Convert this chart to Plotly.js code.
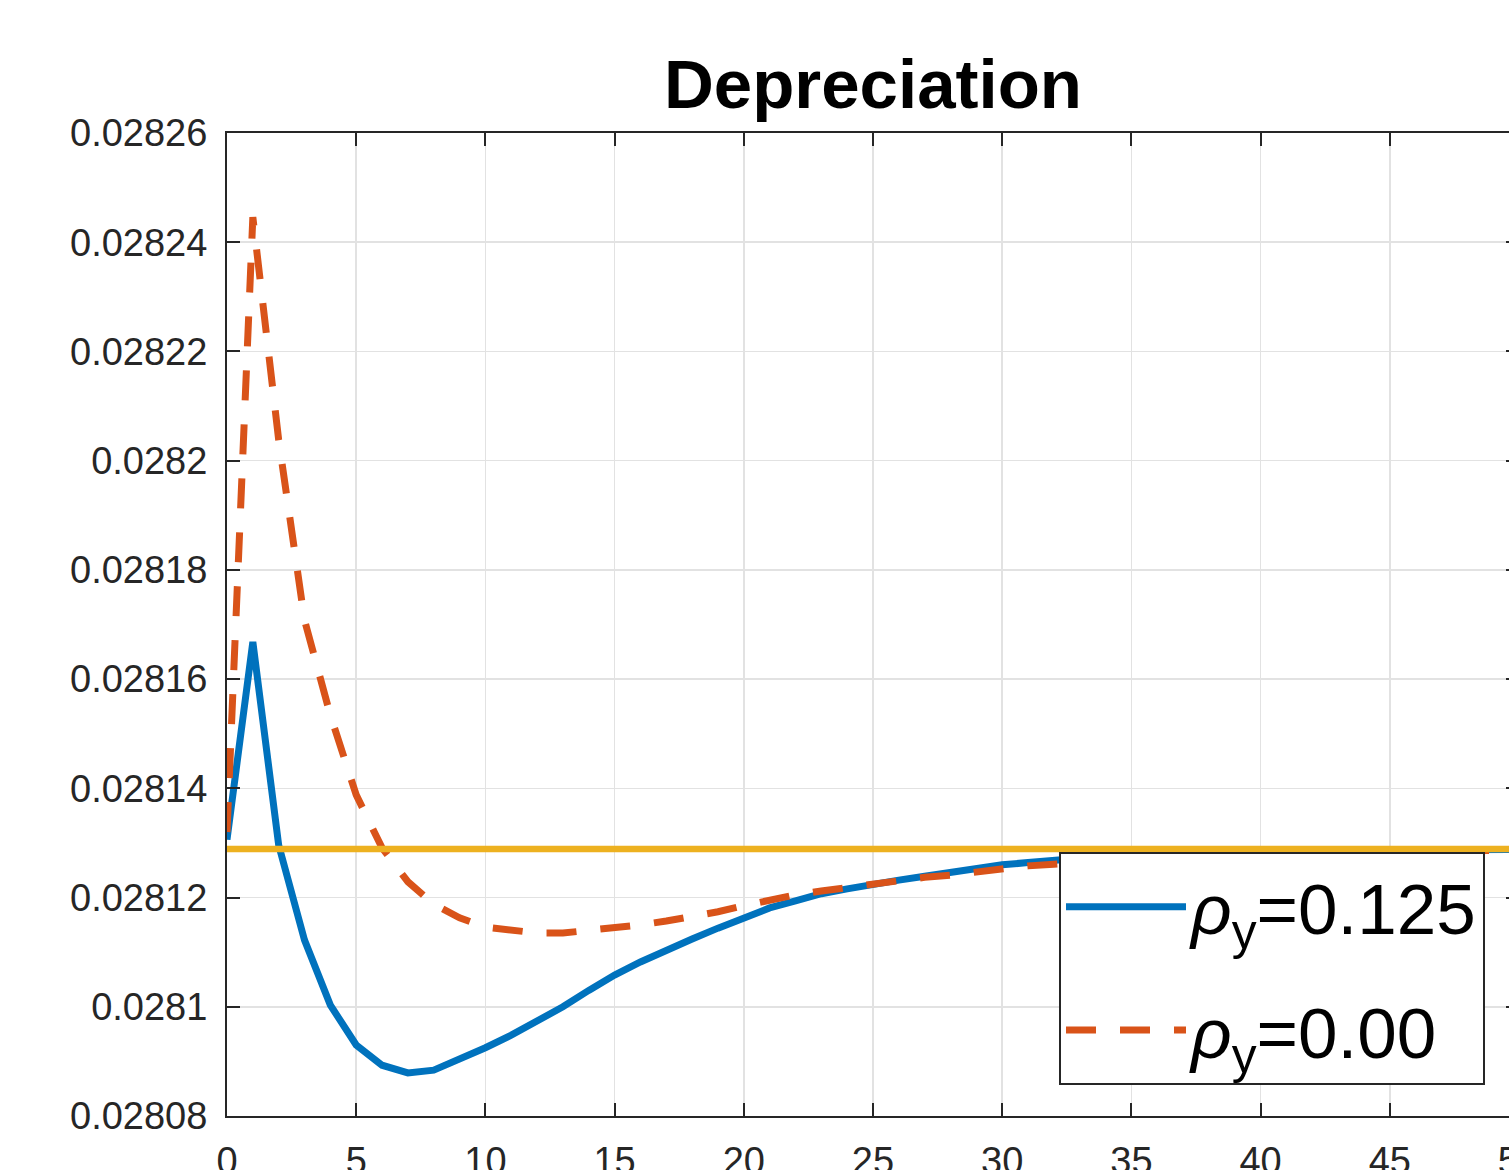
<!DOCTYPE html>
<html>
<head>
<meta charset="utf-8">
<script src="https://cdn.plot.ly/plotly-3.0.1.min.js"></script>
<style>
  html, body { margin: 0; padding: 0; overflow: hidden; background: #ffffff; }
  #chart { width: 1560px; height: 1170px; }
</style>
</head>
<body>
<div id="chart"></div>
<script>
// periods
const periods = [0,1,2,3,4,5,6,7,8,9,10,11,12,13,14,15,16,17,18,19,20,21,22,23,24,25,26,27,28,29,30,31,32,33,34,35,36,37,38,39,40,41,42,43,44,45,46,47,48,49,50];

// rho_y = 0.125
const depRho0125 = [0.0281306,0.0281668,0.0281296,0.0281122,0.0281003,0.0280930,0.0280893,0.0280879,0.0280884,0.0280903,
  0.0280925,0.0280948,0.0280974,0.0281000,0.0281030,0.0281058,0.0281082,0.0281104,0.0281124,0.0281144,
  0.0281164,0.0281181,0.0281194,0.0281207,0.0281216,0.0281225,0.0281232,0.0281239,0.0281247,0.0281254,
  0.0281260,0.0281264,0.0281269,0.0281272,0.0281275,0.0281278,0.0281280,0.0281282,0.0281283,0.0281283,
  0.0281284,0.0281285,0.0281285,0.0281286,0.0281286,0.0281287,0.0281287,0.0281287,0.0281288,0.0281288,0.0281288];

// rho_y = 0.00
const depRho000 = [0.0281320,0.0282446,0.0282038,0.0281708,0.0281534,0.0281388,0.0281291,0.0281229,0.0281188,0.0281163,
  0.0281146,0.0281139,0.0281135,0.0281135,0.0281139,0.0281144,0.0281150,0.0281157,0.0281164,0.0281174,
  0.0281185,0.0281196,0.0281205,0.0281212,0.0281219,0.0281225,0.0281231,0.0281237,0.0281241,0.0281247,
  0.0281254,0.0281258,0.0281261,0.0281265,0.0281268,0.0281271,0.0281273,0.0281275,0.0281277,0.0281279,
  0.0281280,0.0281281,0.0281282,0.0281283,0.0281284,0.0281285,0.0281285,0.0281286,0.0281286,0.0281287,0.0281287];

// steady state
const steadyState = periods.map(() => 0.0281289);

const seriesNames = ['<i>ρ</i><sub>y</sub>=0.125', '<i>ρ</i><sub>y</sub>=0.00'];

const yTickVals = [0.02808,0.02810,0.02812,0.02814,0.02816,0.02818,0.02820,0.02822,0.02824,0.02826];
const yTickText = ['0.02808','0.0281','0.02812','0.02814','0.02816','0.02818','0.0282','0.02822','0.02824','0.02826'];
const xTickVals = [0,5,10,15,20,25,30,35,40,45,50];
const xTickText = ['0','5','10','15','20','25','30','35','40','45','50'];

const FONT = 'Liberation Sans, Arial, Helvetica, sans-serif';
const AX = '#262626';

const traces = [
  { x: periods, y: depRho0125, type: 'scatter', mode: 'lines', name: seriesNames[0], legendgroup: 'a',
    line: { color: '#0072BD', width: 7 } },
  { x: periods, y: depRho000, type: 'scatter', mode: 'lines', name: seriesNames[1], legendgroup: 'b',
    line: { color: '#D95319', width: 7, dash: '30px,24px' } },
  { x: periods, y: steadyState, type: 'scatter', mode: 'lines', name: 'steady state', showlegend: false,
    line: { color: '#EDB120', width: 6.5 } }
];

const axisCommon = {
  showline: true, linecolor: AX, linewidth: 2, mirror: 'ticks',
  ticks: 'inside', ticklen: 13, tickwidth: 2, tickcolor: AX,
  showgrid: true, gridcolor: '#e2e2e2', gridwidth: 1.5,
  zeroline: false,
  tickfont: { family: FONT, size: 38, color: AX },
  tickmode: 'array'
};

const layout = {
  width: 1560, height: 1170,
  margin: { l: 227, r: 41, t: 133, b: 54, pad: 0 },
  paper_bgcolor: '#ffffff', plot_bgcolor: '#ffffff',
  font: { family: FONT, color: AX },
  title: { text: '<b>Depreciation</b>', font: { family: FONT, size: 69, color: '#000000' },
    xref: 'paper', x: 0.5, xanchor: 'center', yref: 'container', y: 1 - 84/1170, yanchor: 'middle' },
  xaxis: Object.assign({}, axisCommon, { range: [0, 50], tickvals: xTickVals, ticktext: xTickText, ticklabelstandoff: 10 }),
  yaxis: Object.assign({}, axisCommon, { range: [0.02808, 0.02826], tickvals: yTickVals, ticktext: yTickText, ticklabelstandoff: 10 }),
  showlegend: true,
  legend: {
    x: (1059-227)/1292, y: (1116-1085)/983, xanchor: 'left', yanchor: 'bottom',
    bgcolor: '#ffffff', bordercolor: AX, borderwidth: 2,
    font: { family: FONT, size: 71, color: '#000000' },
    itemwidth: 120, traceorder: 'grouped', tracegroupgap: 28
  }
};

Plotly.newPlot('chart', traces, layout, { displayModeBar: false, staticPlot: true });
</script>
</body>
</html>
